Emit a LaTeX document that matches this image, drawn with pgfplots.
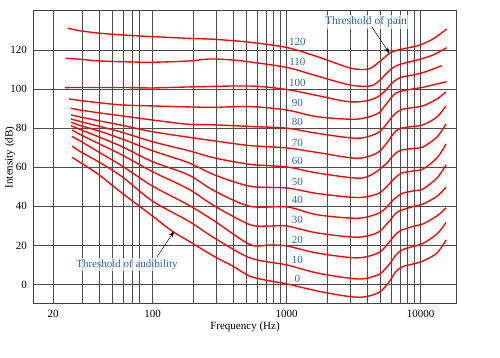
\documentclass[border=0pt]{standalone}
\usepackage{fontspec}
\setmainfont{Liberation Serif}
\usepackage{pgfplots}
\pgfplotsset{compat=1.18}
\usetikzlibrary{arrows.meta}
\definecolor{lblue}{RGB}{40,100,170}
\pgfplotsset{curve/.style={red, line width=1.35pt, smooth, tension=0.5, mark=none}}
\begin{document}
\begin{tikzpicture}[x=1pt,y=1pt]
\useasboundingbox (0,0) rectangle (500,358);
\begin{axis}[
  at={(33.3pt,54pt)}, anchor=south west,
  scale only axis, width=423.4pt, height=293pt,
  xmode=log, xmin=12.85, xmax=18566, ymin=-10, ymax=140,
  xtick={18.1,100,1000,10000}, xticklabels={20,100,1000,10000},
  minor xtick={30,40,50,60,70,80,200,300,400,500,600,700,800,900,2000,3000,4000,5000,6000,7000,8000,9000},
  ytick={0,20,...,120},
  grid=both,
  major grid style={black!70, line width=0.8pt},
  minor grid style={black!70, line width=0.8pt},
  major tick length=0pt, minor tick length=0pt,
  axis line style={black!75, line width=1pt},
  /pgf/number format/assume math mode=true,
  tick label style={font=\fontsize{11}{13}\selectfont},
  xticklabel style={yshift=-3pt},
  yticklabel style={xshift=-3pt},
  label style={font=\fontsize{11}{13}\selectfont},
  xlabel={Frequency (Hz)},
  ylabel={Intensity (dB)},
  xlabel style={at={(axis description cs:0.5,-0.0775)}, anchor=center},
  ylabel style={at={(axis description cs:-0.055,0.5)}, anchor=center},
]
% 0 phon
\addplot[curve] coordinates {(25.0,65.1) (28.7,62.5) (39.1,56.5) (59.0,46.8) (99.5,35.1) (135.6,27.9) (184.7,22.3) (288.7,14.3) (393.3,9.5) (532.3,4.2) (750.6,1.8) (1005,0.3) (1683,-3.3) (2868,-6.1) (3774,-6.4) (4800,-4.35) (5508,-0.8) (6003,2.8) (6542,6.65) (7252,9.0) (8761,10.5) (10404,12.0) (13233,16.1) (15445,22.8)};
% 10 phon
\addplot[curve] coordinates {(25.0,70.9) (28.7,68.1) (39.1,62.9) (59.0,55.2) (99.5,42.7) (184.7,32.5) (288.7,23.8) (532.3,13.6) (1005,10.0) (1683,5.9) (3405,2.8) (4800,4.9) (5508,8.4) (6003,11.5) (6542,15.1) (7252,17.7) (8761,19.45) (10404,21.0) (13233,25.85) (15445,31.7)};
% 20 phon
\addplot[curve] coordinates {(25.0,75.7) (28.7,73.5) (39.1,68.0) (59.0,60.7) (99.5,50.4) (184.7,40.7) (288.7,32.5) (532.3,20.4) (750.6,20.2) (1005,19.7) (1683,16.1) (3346,13.6) (4800,16.1) (5508,19.7) (6003,22.8) (6542,25.85) (7252,27.9) (8761,29.7) (10404,31.0) (13233,35.1) (15445,39.2)};
% 30 phon
\addplot[curve] coordinates {(25.0,79.1) (28.7,76.8) (39.1,72.3) (59.0,66.3) (99.5,57.75) (184.7,48.9) (288.7,40.2) (532.3,30.6) (750.6,29.95) (1005,29.95) (1683,26.4) (3346,24.2) (4719,26.4) (5508,30.5) (6003,33.5) (6542,36.6) (7252,38.1) (8761,39.9) (10404,41.2) (13233,45.15) (15445,49.8)};
% 40 phon
\addplot[curve] coordinates {(24.6,81.3) (28.7,79.35) (39.1,75.7) (59.0,70.55) (99.5,62.9) (184.7,56.1) (288.7,47.9) (532.3,40.0) (1005,39.7) (1683,35.7) (3346,33.9) (4719,36.1) (5508,39.2) (6003,42.2) (6542,44.5) (7252,46.6) (8761,47.9) (10404,48.9) (13233,54.5) (15445,61.2)};
% 50 phon
\addplot[curve] coordinates {(24.6,83.0) (28.7,81.4) (39.1,78.7) (59.0,74.5) (99.5,68.5) (184.7,62.35) (288.7,56.1) (532.3,50.3) (1005,49.4) (1683,46.6) (3346,44.5) (4719,46.3) (5508,49.7) (6003,52.5) (6542,55.0) (7252,57.1) (8761,58.1) (10404,59.1) (13233,64.8) (15445,71.9)};
% 60 phon
\addplot[curve] coordinates {(24.6,84.7) (28.7,83.45) (39.1,81.1) (59.0,77.9) (99.5,73.1) (184.7,68.5) (288.7,64.8) (532.3,61.5) (1005,60.15) (1683,57.1) (3405,54.4) (4406,56.6) (5508,61.7) (6003,64.8) (6542,67.3) (7252,68.9) (8761,69.6) (10404,70.4) (13233,75.5) (15445,82.2)};
% 70 phon
\addplot[curve] coordinates {(24.6,86.8) (28.7,85.75) (39.1,83.9) (59.0,81.5) (99.5,78.2) (184.7,75.4) (288.7,73.5) (532.3,71.1) (1005,69.9) (1683,67.6) (3346,64.6) (4719,67.3) (5508,71.9) (6003,75.5) (6542,78.6) (7252,80.1) (8761,80.9) (10404,81.7) (13233,85.75) (15445,91.4)};
% 80 phon
\addplot[curve] coordinates {(24.6,90.2) (28.7,89.3) (39.1,87.95) (59.0,86.3) (99.5,84.2) (184.7,82.0) (288.7,81.7) (532.3,80.9) (1005,80.0) (1683,77.4) (3346,74.85) (4719,77.4) (5508,81.7) (6003,85.2) (6542,87.8) (7252,89.6) (8761,90.6) (10404,91.4) (13233,95.0) (15445,98.55)};
% 90 phon
\addplot[curve] coordinates {(23.7,95.0) (28.7,94.2) (39.1,93.1) (59.0,91.9) (99.5,91.4) (184.7,90.9) (288.7,90.7) (532.3,91.1) (1005,89.3) (1683,85.9) (3291,84.6) (4719,87.3) (5323,90.9) (6003,95.5) (6542,98.0) (7378,99.2) (8761,100.1) (10404,100.95) (13233,102.65) (15631,103.8)};
% 100 phon
\addplot[curve] coordinates {(22.2,100.75) (28.7,100.85) (59.0,100.85) (99.5,100.6) (184.7,101.1) (532.3,101.6) (1005,99.8) (1683,96.75) (2868,93.6) (3906,93.95) (4800,96.1) (5508,99.6) (6003,102.65) (6542,104.7) (7252,106.2) (8761,107.25) (10404,108.5) (12143,110.1) (14345,112.0)};
% 110 phon
\addplot[curve] coordinates {(22.4,115.8) (28.7,115.3) (40.4,114.4) (71.3,113.9) (99.5,113.75) (184.7,114.4) (267.7,115.45) (397.4,114.9) (532.3,113.9) (1005,111.1) (1683,106.75) (2968,102.1) (4183,101.6) (4800,103.7) (5323,106.75) (5902,109.8) (6542,111.9) (7767,113.55) (9881,115.3) (12356,117.5) (15631,121.2)};
% 120 phon
\addplot[curve] coordinates {(23.2,131.2) (28.7,129.9) (40.4,128.6) (71.3,127.4) (99.5,126.9) (184.7,126.0) (288.7,125.5) (532.3,124.0) (1005,121.3) (1683,116.7) (2968,110.8) (3906,110.1) (4331,111.1) (4800,113.4) (5323,116.0) (5902,118.5) (6770,120.05) (7767,120.9) (9881,122.6) (12356,125.7) (15631,130.8)};
% curve labels
\begin{scope}[every node/.style={text=lblue, font=\fontsize{11}{13}\selectfont, inner sep=0pt}]
\node at (axis cs:1200,124.0) {120};
\node at (axis cs:1200,114.1) {110};
\node at (axis cs:1200,103.2) {100};
\node at (axis cs:1200,92.8) {90};
\node at (axis cs:1200,83.0) {80};
\node at (axis cs:1200,72.3) {70};
\node at (axis cs:1200,63.1) {60};
\node at (axis cs:1200,52.5) {50};
\node at (axis cs:1200,43.3) {40};
\node at (axis cs:1200,32.9) {30};
\node at (axis cs:1200,22.9) {20};
\node at (axis cs:1200,12.7) {10};
\node at (axis cs:1200,3.0) {0};
\end{scope}
\node[fill=white, fill opacity=0.7, text opacity=1, text=lblue, font=\fontsize{11.5}{13}\selectfont, inner sep=1.5pt] at (axis cs:3906,134.4) {Threshold of pain};
\draw[-{Stealth[length=6pt,width=4.5pt]}, black, line width=0.5pt] (axis cs:4309,132.0) -- (axis cs:5832,118.4);
\node[fill=white, fill opacity=0.7, text opacity=1, text=lblue, font=\fontsize{11}{13}\selectfont, inner sep=1.5pt] at (axis cs:64.3,10.0) {Threshold of audibility};
\draw[-{Stealth[length=6pt,width=4.5pt]}, black, line width=0.5pt] (axis cs:107.1,13.9) -- (axis cs:144.2,27.2);
\end{axis}
\end{tikzpicture}
\end{document}
